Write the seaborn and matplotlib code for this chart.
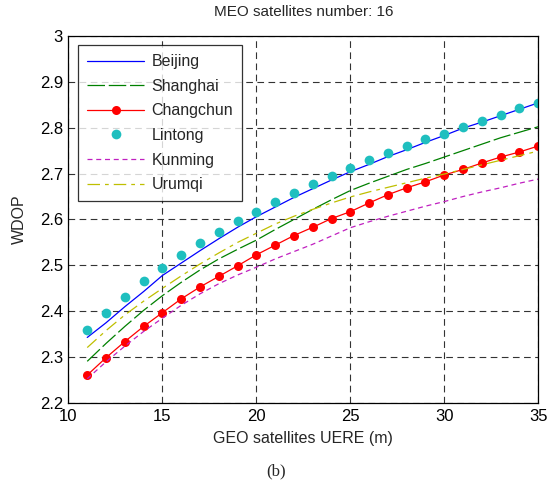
import matplotlib
matplotlib.use("Agg")
import matplotlib.pyplot as plt
import seaborn as sns

# UERE of GEO satellites (m)
uere = list(range(11, 36))

beijing = [2.343, 2.375, 2.410, 2.443, 2.478, 2.505, 2.532, 2.558, 2.583, 2.606,
           2.627, 2.648, 2.667, 2.686, 2.704, 2.720, 2.737, 2.752, 2.768, 2.783,
           2.799, 2.812, 2.826, 2.840, 2.854]
shanghai = [2.291, 2.330, 2.367, 2.402, 2.434, 2.463, 2.490, 2.514, 2.535, 2.555,
            2.578, 2.600, 2.622, 2.643, 2.663, 2.679, 2.694, 2.709, 2.722, 2.736,
            2.750, 2.764, 2.778, 2.790, 2.802]
changchun = [2.261, 2.299, 2.334, 2.367, 2.397, 2.427, 2.453, 2.476, 2.499, 2.523,
             2.544, 2.565, 2.583, 2.602, 2.617, 2.636, 2.654, 2.669, 2.682, 2.697,
             2.709, 2.723, 2.736, 2.747, 2.760]
lintong = [2.359, 2.397, 2.431, 2.465, 2.495, 2.522, 2.549, 2.573, 2.596, 2.617,
           2.638, 2.658, 2.677, 2.695, 2.712, 2.730, 2.745, 2.759, 2.775, 2.787,
           2.802, 2.815, 2.828, 2.842, 2.854]
kunming = [2.253, 2.290, 2.324, 2.356, 2.385, 2.413, 2.438, 2.460, 2.479, 2.496,
           2.514, 2.530, 2.546, 2.564, 2.582, 2.595, 2.607, 2.618, 2.629, 2.639,
           2.650, 2.660, 2.669, 2.679, 2.688]
urumqi = [2.321, 2.358, 2.392, 2.422, 2.450, 2.477, 2.503, 2.527, 2.550, 2.570,
          2.590, 2.607, 2.622, 2.636, 2.649, 2.660, 2.670, 2.680, 2.690, 2.699,
          2.709, 2.719, 2.729, 2.739, 2.749]

sns.set_style("white")
plt.rcParams['font.family'] = ['Liberation Sans', 'DejaVu Sans']

fig = plt.figure(figsize=(5.52, 4.91), dpi=100)
ax = fig.add_axes([0.124, 0.179, 0.851, 0.748])

sns.lineplot(x=uere, y=beijing, ax=ax, color="#0000ff", lw=0.9, label="Beijing")
sns.lineplot(x=uere, y=shanghai, ax=ax, color="#008000", lw=0.9, dashes=(14, 3),
             label="Shanghai")
sns.lineplot(x=uere, y=changchun, ax=ax, color="#ff0000", lw=0.9, marker="o",
             markersize=6.5, markeredgewidth=0, label="Changchun")
sns.lineplot(x=uere, y=lintong, ax=ax, color="#1fbfbf", linestyle="none", marker="o",
             markersize=7, markeredgewidth=0, label="Lintong")
sns.lineplot(x=uere, y=kunming, ax=ax, color="#c020c0", lw=0.9, dashes=(4, 3),
             label="Kunming")
sns.lineplot(x=uere, y=urumqi, ax=ax, color="#bfbf00", lw=0.9, dashes=(10, 4, 3, 4),
             label="Urumqi")

ax.set_xlim(10, 35)
ax.set_ylim(2.2, 3.0)
ax.set_xticks([10, 15, 20, 25, 30, 35])
ax.set_yticks([2.2, 2.3, 2.4, 2.5, 2.6, 2.7, 2.8, 2.9, 3.0])
ax.set_yticklabels(["2.2", "2.3", "2.4", "2.5", "2.6", "2.7", "2.8", "2.9", "3"])
ax.tick_params(direction="in", length=4, labelsize=12, colors="black", pad=4)
ax.grid(True, color="#333333", linestyle=(0, (6, 4)), lw=0.8)
for sp in ax.spines.values():
    sp.set_color("black")
    sp.set_linewidth(0.9)

ax.set_title("MEO satellites number: 16", fontsize=11, pad=14)
ax.set_xlabel("GEO satellites UERE (m)", fontsize=11.5, labelpad=5)
ax.set_ylabel("WDOP", fontsize=11.5, labelpad=9)

leg = ax.legend(loc="upper left", fontsize=11.5, frameon=True, fancybox=False,
                edgecolor="black", handlelength=3.6, handletextpad=0.45,
                borderaxespad=0.6, borderpad=0.55, labelspacing=0.6)
leg.get_frame().set_linewidth(0.9)

fig.text(0.5, 0.039, "(b)", ha="center", va="center", fontsize=12,
         family="Liberation Serif")

fig.savefig("out.png", dpi=100)
